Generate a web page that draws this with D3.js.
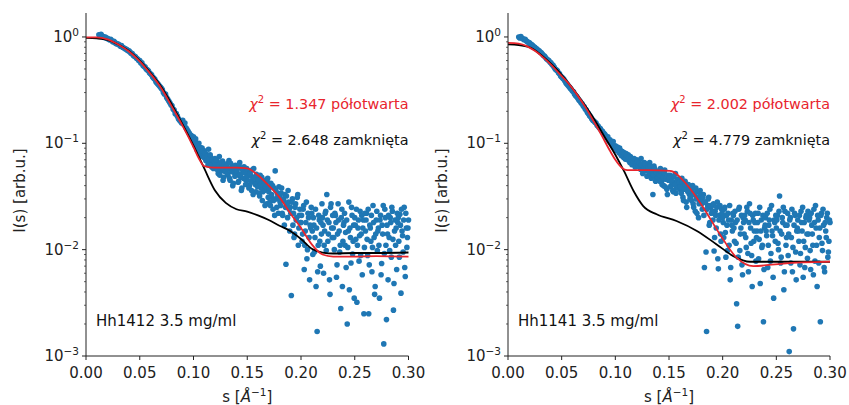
<!DOCTYPE html>
<html><head><meta charset="utf-8">
<script src="https://cdn.jsdelivr.net/npm/d3@7"></script>
<style>
body{margin:0;background:#fff}
svg{display:block}
text{font-family:'DejaVu Sans',sans-serif}
</style>
</head><body>
<svg id="fig" width="849" height="405"></svg>
<script>
// Sample names and fit quality annotations
const sampleLabels = ["Hh1412 3.5 mg/ml", "Hh1141 3.5 mg/ml"];
const chiOpen = ["1.347", "2.002"];
const chiClosed = ["2.648", "4.779"];
const xTickValues = [0.00, 0.05, 0.10, 0.15, 0.20, 0.25, 0.30];
const yTickValues = [1e-3, 1e-2, 1e-1, 1e0];
const yTickExponents = ["−3", "−2", "−1", "0"];

// Measured scattering curves, sampled every 0.001 Å⁻¹
const sStep = 0.001;
const leftS0 = 0.012;
const leftI = [
  1.05,1.03,1.06,1.02,1.01,0.99,1.00,0.97,
  0.97,0.95,0.94,0.95,0.92,0.90,0.91,0.88,0.87,0.86,
  0.86,0.84,0.82,0.83,0.80,0.79,0.78,0.77,0.76,0.74,
  0.74,0.72,0.70,0.70,0.67,0.66,0.65,0.63,0.62,0.60,
  0.60,0.57,0.57,0.54,0.53,0.52,0.50,0.49,0.48,0.46,
  0.45,0.44,0.42,0.41,0.40,0.38,0.37,0.36,0.35,0.34,
  0.33,0.32,0.30,0.29,0.29,0.27,0.26,0.25,0.24,0.23,
  0.225,0.21,0.205,0.19,0.19,0.18,0.17,0.165,0.16,0.155,
  0.165,0.15,0.155,0.14,0.135,0.13,0.125,0.12,0.118,0.11,
  0.115,0.105,0.11,0.098,0.092,0.1,0.088,0.082,0.09,0.078,
  0.085,0.072,0.079,0.068,0.088,0.065,0.074,0.06,0.07,0.066,
  0.072,0.058,0.066,0.052,0.075,0.061,0.055,0.068,0.048,0.06,
  0.058,0.064,0.05,0.069,0.045,0.056,0.061,0.042,0.053,0.062,
  0.05,0.058,0.044,0.066,0.048,0.038,0.055,0.06,0.046,0.052,
  0.045,0.055,0.04,0.05,0.036,0.048,0.058,0.042,0.035,0.046,
  0.042,0.034,0.05,0.038,0.029,0.045,0.036,0.04,0.027,0.047,
  0.035,0.028,0.042,0.031,0.024,0.038,0.055,0.03,0.034,0.022,
  0.031,0.026,0.038,0.021,0.029,0.033,0.0073,0.027,0.036,0.024,
  0.025,0.0037,0.03,0.022,0.014,0.027,0.02,0.033,0.016,0.024,
  0.018,0.012,0.024,0.0065,0.015,0.028,0.01,0.02,0.0052,0.016,
  0.022,0.009,0.017,0.013,0.0045,0.0017,0.011,0.019,0.007,0.014,
  0.02,0.006,0.015,0.023,0.033,0.012,0.018,0.0038,0.027,0.013,
  0.016,0.01,0.021,0.0055,0.014,0.019,0.0095,0.0028,0.024,0.012,
  0.018,0.011,0.0068,0.002,0.015,0.0042,0.013,0.025,0.0091,0.017,
  0.02,0.0125,0.0032,0.016,0.0078,0.023,0.014,0.0058,0.019,0.0105,
  0.015,0.022,0.0088,0.0025,0.017,0.012,0.0062,0.026,0.013,0.0045,
  0.019,0.0098,0.016,0.0035,0.021,0.0074,0.014,0.0013,0.024,0.011,
  0.017,0.0052,0.013,0.02,0.0085,0.023,0.0027,0.015,0.011,0.0065,
  0.018,0.012,0.0215,0.0039,0.015,0.0095,0.025,0.0056,0.016,0.013,
  0.019
];
// Interleaved readings at half-step positions, from s = 0.1005
const leftHalfS0 = 0.1005;
const leftHalfI = [
  0.108,0.095,0.1,0.086,0.094,0.083,0.091,0.076,0.085,0.074,
  0.081,0.069,0.076,0.063,0.071,0.078,0.062,0.07,0.058,0.067,
  0.064,0.07,0.056,0.062,0.05,0.066,0.059,0.045,0.063,0.054,
  0.061,0.052,0.058,0.047,0.065,0.054,0.04,0.059,0.049,0.056,
  0.055,0.043,0.061,0.051,0.036,0.057,0.047,0.053,0.041,0.058,
  0.049,0.038,0.052,0.044,0.056,0.033,0.047,0.041,0.051,0.039,
  0.045,0.032,0.041,0.048,0.035,0.043,0.026,0.039,0.044,0.031,
  0.038,0.026,0.033,0.04,0.029,0.021,0.036,0.025,0.032,0.039,
  0.028,0.034,0.022,0.03,0.017,0.025,0.032,0.02,0.028,0.015,
  0.022,0.028,0.017,0.013,0.025,0.019,0.031,0.011,0.021,0.018,
  0.021,0.014,0.026,0.011,0.018,0.0082,0.022,0.013,0.017,0.025,
  0.015,0.02,0.0095,0.024,0.016,0.0062,0.021,0.012,0.018,0.027,
  0.017,0.011,0.022,0.0098,0.019,0.014,0.0052,0.025,0.016,0.021,
  0.013,0.022,0.018,0.0072,0.027,0.015,0.011,0.02,0.0045,0.017,
  0.022,0.0145,0.019,0.0105,0.028,0.016,0.0075,0.021,0.012,0.0035,
  0.017,0.024,0.011,0.019,0.0135,0.0088,0.021,0.016,0.0025,0.022,
  0.019,0.0125,0.024,0.0072,0.016,0.021,0.0105,0.018,0.0038,0.014,
  0.023,0.015,0.011,0.019,0.0058,0.017,0.026,0.0092,0.02,0.0022,
  0.014,0.021,0.0098,0.018,0.025,0.0125,0.0048,0.019,0.016,0.022,
  0.02,0.0085,0.017,0.024,0.0135,0.019,0.0068,0.022,0.0105,0.016
];
const rightS0 = 0.010;
const rightI = [
  1.0,0.98,1.01,0.97,0.96,0.94,0.95,0.92,0.9,0.89,
  0.88,0.86,0.85,0.83,0.81,0.8,0.78,0.77,0.75,0.74,
  0.72,0.71,0.69,0.67,0.66,0.64,0.62,0.61,0.6,0.58,
  0.57,0.55,0.54,0.52,0.5,0.49,0.48,0.46,0.45,0.43,
  0.42,0.41,0.4,0.385,0.37,0.36,0.35,0.34,0.33,0.32,
  0.31,0.305,0.29,0.28,0.275,0.265,0.255,0.25,0.24,0.235,
  0.225,0.22,0.21,0.205,0.195,0.19,0.182,0.178,0.17,0.165,
  0.162,0.158,0.155,0.148,0.145,0.14,0.138,0.132,0.13,0.125,
  0.122,0.118,0.112,0.115,0.105,0.108,0.1,0.098,0.104,0.092,
  0.095,0.088,0.092,0.085,0.09,0.08,0.084,0.076,0.082,0.072,
  0.08,0.074,0.078,0.07,0.075,0.066,0.072,0.064,0.069,0.062,
  0.07,0.064,0.068,0.06,0.072,0.058,0.062,0.066,0.055,0.06,
  0.062,0.056,0.066,0.05,0.058,0.033,0.061,0.048,0.055,0.052,
  0.054,0.047,0.058,0.044,0.051,0.04,0.056,0.046,0.037,0.05,
  0.045,0.05,0.04,0.048,0.035,0.043,0.052,0.038,0.046,0.041,
  0.042,0.036,0.047,0.031,0.039,0.044,0.028,0.037,0.041,0.033,
  0.035,0.029,0.04,0.025,0.033,0.038,0.022,0.031,0.027,0.036,
  0.03,0.024,0.033,0.0068,0.028,0.0017,0.026,0.031,0.018,0.025,
  0.026,0.019,0.0097,0.023,0.016,0.028,0.0066,0.021,0.014,0.024,
  0.02,0.013,0.025,0.0085,0.017,0.022,0.011,0.0052,0.019,0.015,
  0.021,0.012,0.018,0.0031,0.0019,0.024,0.0098,0.016,0.0072,0.02,
  0.014,0.019,0.0105,0.023,0.0062,0.027,0.016,0.0088,0.021,0.012,
  0.018,0.0078,0.015,0.022,0.0125,0.0048,0.019,0.011,0.0021,0.016,
  0.02,0.0135,0.0068,0.017,0.024,0.0092,0.015,0.0055,0.019,0.012,
  0.016,0.021,0.01,0.032,0.0075,0.014,0.018,0.0042,0.023,0.011,
  0.017,0.0088,0.0011,0.02,0.013,0.0062,0.0018,0.022,0.0095,0.015,
  0.019,0.012,0.0072,0.023,0.015,0.0055,0.018,0.0105,0.021,0.0083,
  0.014,0.02,0.0065,0.017,0.011,0.024,0.0078,0.016,0.0045,0.019,
  0.013,0.0021,0.022,0.0098,0.017,0.0062,0.015,0.02,0.0085,0.012,
  0.018
];
const rightHalfS0 = 0.1005;
const rightHalfI = [
  0.092,0.085,0.089,0.081,0.086,0.077,0.083,0.074,0.079,0.071,
  0.077,0.07,0.074,0.066,0.071,0.063,0.068,0.072,0.06,0.065,
  0.067,0.061,0.065,0.057,0.063,0.052,0.059,0.064,0.056,0.049,
  0.059,0.053,0.061,0.047,0.055,0.05,0.058,0.044,0.053,0.048,
  0.051,0.044,0.055,0.041,0.048,0.053,0.039,0.047,0.033,0.045,
  0.047,0.039,0.044,0.036,0.049,0.041,0.034,0.045,0.038,0.043,
  0.039,0.034,0.043,0.029,0.037,0.041,0.025,0.035,0.038,0.03,
  0.032,0.037,0.027,0.034,0.023,0.03,0.035,0.02,0.029,0.033,
  0.027,0.031,0.021,0.028,0.0095,0.024,0.03,0.017,0.026,0.022,
  0.023,0.027,0.013,0.021,0.025,0.0082,0.019,0.026,0.012,0.022,
  0.018,0.024,0.0145,0.021,0.0098,0.019,0.026,0.0068,0.017,0.022,
  0.016,0.023,0.0115,0.019,0.0085,0.025,0.014,0.021,0.0058,0.018,
  0.021,0.013,0.025,0.0092,0.018,0.022,0.0115,0.0045,0.019,0.015,
  0.022,0.013,0.018,0.0082,0.025,0.015,0.0105,0.021,0.0065,0.017,
  0.015,0.022,0.011,0.019,0.0078,0.026,0.0135,0.0035,0.018,0.021,
  0.019,0.0115,0.023,0.015,0.0085,0.02,0.025,0.0062,0.017,0.013,
  0.022,0.014,0.019,0.0075,0.024,0.0105,0.017,0.021,0.0052,0.016,
  0.015,0.021,0.0092,0.018,0.025,0.012,0.0068,0.02,0.014,0.023,
  0.019,0.0098,0.022,0.014,0.0058,0.018,0.026,0.011,0.021,0.0075,
  0.016,0.021,0.0115,0.024,0.0068,0.018,0.013,0.022,0.0095,0.019
];

// Model curves: semi-open (red) and closed (black) conformations
const leftOpenS  = [0,0.01,0.02,0.03,0.04,0.05,0.06,0.07,0.08,0.09,0.10,0.105,0.11,0.12,0.13,0.14,0.15,0.16,0.17,0.18,0.19,0.20,0.21,0.22,0.23,0.25,0.27,0.30];
const leftOpenI  = [0.99,0.99,0.95,0.85,0.73,0.59,0.45,0.33,0.22,0.145,0.092,0.072,0.061,0.059,0.059,0.059,0.058,0.050,0.040,0.031,0.022,0.016,0.0112,0.0090,0.0086,0.0086,0.0087,0.0086];
const leftClosedS = [0,0.01,0.02,0.03,0.04,0.05,0.06,0.07,0.08,0.09,0.10,0.11,0.12,0.13,0.14,0.15,0.16,0.17,0.18,0.19,0.20,0.21,0.22,0.23,0.25,0.27,0.30];
const leftClosedI = [0.98,0.97,0.94,0.85,0.74,0.60,0.46,0.34,0.23,0.15,0.095,0.058,0.036,0.0275,0.024,0.0228,0.021,0.019,0.0168,0.015,0.0126,0.0102,0.0094,0.0092,0.0093,0.0093,0.0094];
const rightOpenS  = [0,0.01,0.0174,0.025,0.033,0.04,0.048,0.056,0.064,0.072,0.08,0.087,0.095,0.10,0.106,0.111,0.13,0.151,0.1665,0.182,0.1975,0.213,0.2286,0.2565,0.30];
const rightOpenI  = [0.88,0.865,0.82,0.74,0.64,0.55,0.45,0.37,0.29,0.22,0.16,0.12,0.085,0.07,0.059,0.056,0.056,0.055,0.041,0.0248,0.0139,0.0084,0.0070,0.0074,0.0077];
const rightClosedS = [0,0.01,0.02,0.03,0.04,0.05,0.06,0.07,0.08,0.09,0.10,0.108,0.117,0.126,0.1385,0.157,0.176,0.1944,0.21,0.2255,0.25,0.30];
const rightClosedI = [0.85,0.84,0.80,0.69,0.56,0.44,0.33,0.24,0.17,0.115,0.078,0.055,0.0356,0.0257,0.0215,0.0186,0.015,0.0112,0.0087,0.0077,0.0077,0.0077];

const panels = [
  {left: 86, right: 408.5, s0: leftS0, I: leftI, h0: leftHalfS0, H: leftHalfI,
   openS: leftOpenS, openI: leftOpenI, closedS: leftClosedS, closedI: leftClosedI,
   label: sampleLabels[0], chiO: chiOpen[0], chiC: chiClosed[0]},
  {left: 508, right: 830, s0: rightS0, I: rightI, h0: rightHalfS0, H: rightHalfI,
   openS: rightOpenS, openI: rightOpenI, closedS: rightClosedS, closedI: rightClosedI,
   label: sampleLabels[1], chiO: chiOpen[1], chiC: chiClosed[1]}
];

const svg = d3.select("#fig");
const plotTop = 13, plotBottom = 356;
const axisColor = "#222";
const dotColor = "#1f77b4";
const redColor = "#e8252d";
const fs = 15;
const fsChi = 14.4;

panels.forEach(p => {
  const g = svg.append("g");
  const x = d3.scaleLinear().domain([0, 0.30]).range([p.left, p.right]);
  const y = d3.scaleLog().domain([1e-3, 1.68]).range([plotBottom, plotTop]);

  // scatter of measured intensities (main grid plus half-step readings)
  const pts = p.I.map((v, i) => [p.s0 + i * sStep, v])
    .concat(p.H.map((v, i) => [p.h0 + i * sStep, v]));
  g.append("g").selectAll("circle")
    .data(pts)
    .join("circle")
    .attr("cx", d => x(d[0]))
    .attr("cy", d => y(d[1]))
    .attr("r", 2.8)
    .attr("fill", dotColor);

  const line = d3.line().x(d => x(d[0])).y(d => y(d[1])).curve(d3.curveMonotoneX);
  g.append("path")
    .attr("d", line(p.closedS.map((s, i) => [s, p.closedI[i]])))
    .attr("fill", "none").attr("stroke", "#000").attr("stroke-width", 1.8);
  g.append("path")
    .attr("d", line(p.openS.map((s, i) => [s, p.openI[i]])))
    .attr("fill", "none").attr("stroke", redColor).attr("stroke-width", 1.8);

  // spines
  g.append("line").attr("x1", p.left).attr("x2", p.left).attr("y1", plotTop).attr("y2", plotBottom)
    .attr("stroke", axisColor).attr("stroke-width", 1);
  g.append("line").attr("x1", p.left).attr("x2", p.right).attr("y1", plotBottom).attr("y2", plotBottom)
    .attr("stroke", axisColor).attr("stroke-width", 1);

  // x ticks
  xTickValues.forEach(v => {
    g.append("line").attr("x1", x(v)).attr("x2", x(v)).attr("y1", plotBottom).attr("y2", plotBottom + 4)
      .attr("stroke", axisColor);
    g.append("text").attr("x", x(v)).attr("y", plotBottom + 22).attr("text-anchor", "middle")
      .attr("font-size", fs).attr("fill", axisColor).text(d3.format(".2f")(v));
  });

  // y major ticks with power-of-ten labels
  yTickValues.forEach((v, i) => {
    g.append("line").attr("x1", p.left - 4).attr("x2", p.left).attr("y1", y(v)).attr("y2", y(v))
      .attr("stroke", axisColor);
    const t = g.append("text").attr("x", p.left - 7).attr("y", y(v) + 5).attr("text-anchor", "end")
      .attr("font-size", fs).attr("fill", axisColor);
    t.append("tspan").text("10");
    t.append("tspan").attr("font-size", 10.5).attr("dy", -6).text(yTickExponents[i]);
  });
  // y minor ticks
  for (let e = -3; e <= 0; e++) {
    for (let k = 2; k <= 9; k++) {
      const v = k * Math.pow(10, e);
      if (v > y.domain()[1]) continue;
      g.append("line").attr("x1", p.left - 2).attr("x2", p.left).attr("y1", y(v)).attr("y2", y(v))
        .attr("stroke", axisColor).attr("stroke-width", 0.7);
    }
  }

  // axis titles
  const xl = g.append("text").attr("x", (p.left + p.right) / 2).attr("y", 402)
    .attr("text-anchor", "middle").attr("font-size", fs).attr("fill", axisColor);
  xl.append("tspan").text("s [");
  xl.append("tspan").attr("font-style", "italic").text("Å");
  xl.append("tspan").attr("font-size", 10.5).attr("dy", -6).text("−1");
  xl.append("tspan").attr("dy", 6).text("]");
  g.append("text").attr("transform", `translate(${p.left - 61},${(plotTop + plotBottom) / 2 + 6}) rotate(-90)`)
    .attr("text-anchor", "middle").attr("font-size", fs).attr("fill", axisColor).text("I(s) [arb.u.]");

  // chi-square annotations
  const chi = (yy, color, val, word) => {
    const t = g.append("text").attr("x", p.right).attr("y", yy).attr("text-anchor", "end")
      .attr("font-size", fsChi).attr("fill", color);
    t.append("tspan").attr("font-style", "italic").text("χ");
    t.append("tspan").attr("font-size", 10).attr("dy", -6).text("2");
    t.append("tspan").attr("dy", 6).text(" = " + val + " " + word);
  };
  chi(109, redColor, p.chiO, "półotwarta");
  chi(145, "#111", p.chiC, "zamknięta");

  g.append("text").attr("x", p.left + 10).attr("y", 326).attr("font-size", fs)
    .attr("fill", "#111").text(p.label);
});
</script>
</body></html>
